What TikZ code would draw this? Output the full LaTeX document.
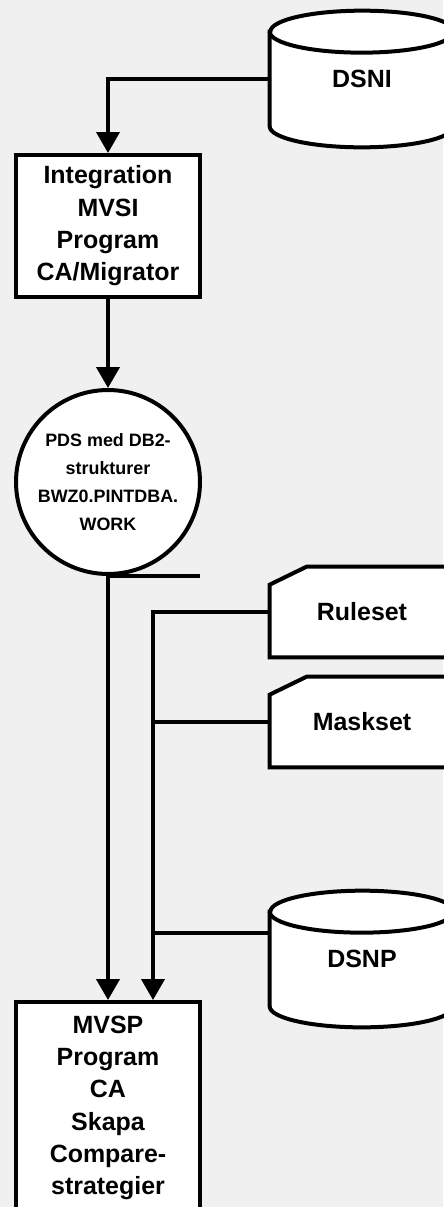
\documentclass[tikz,border=0pt]{standalone}
\usepackage{fontspec}
\setmainfont{Liberation Sans}
\usetikzlibrary{arrows.meta, backgrounds}
\definecolor{panelgray}{HTML}{F0F0F0}

% Trommel (Datenbank) hinter einem Textknoten
\newcommand{\drumshape}[1]{%
  \draw[chart, fill=white] ([yshift=-0.42cm]#1.north west) -- ([yshift=0.42cm]#1.south west)
    arc[start angle=180, end angle=360, x radius=1.84cm, y radius=0.42cm]
    -- ([yshift=-0.42cm]#1.north east)
    arc[start angle=0, end angle=180, x radius=1.84cm, y radius=0.42cm] -- cycle;
  \draw[chart] ([yshift=-0.42cm]#1.north west)
    arc[start angle=180, end angle=360, x radius=1.84cm, y radius=0.42cm];}

% Karte mit abgeschnittener Ecke
\newcommand{\cardshape}[1]{%
  \draw[chart, fill=white] (#1.south west) -- ([yshift=-0.36cm]#1.north west)
    -- ([xshift=0.74cm]#1.north west) -- (#1.north east) -- (#1.south east) -- cycle;}

\tikzset{
  chart/.style={line width=0.08cm, line join=miter},
  flow/.style={chart, -{Triangle[length=0.42cm, width=0.46cm]}},
  prog/.style={rectangle, chart, draw=black, fill=white, minimum width=3.68cm,
               inner sep=0pt, align=center, font=\fontsize{14.2}{18.4}\selectfont\bfseries},
  tape/.style={circle, chart, draw=black, fill=white, minimum size=3.68cm,
               inner sep=0pt, align=center, font=\fontsize{10.2}{15.9}\selectfont\bfseries},
  store/.style={rectangle, minimum width=3.68cm, inner sep=0pt, align=center,
                font=\fontsize{14.2}{18.4}\selectfont\bfseries}
}

\begin{document}
\begin{tikzpicture}[x=0.02cm, y=0.02cm]

    \useasboundingbox (0,0) rectangle (443,-1207);
    \begin{scope}[on background layer]
        \fill[panelgray] (0,0) rectangle (443,-1207);
    \end{scope}

    % Programme
    \node[prog, minimum height=2.84cm] (integ) at (108,-226) {Integration\\MVSI\\Program\\CA/Migrator};
    \node[prog, minimum height=4.24cm] (mvsp) at (108,-1108) {MVSP\\Program\\CA\\Skapa\\Compare-\\strategier};

    % Arbeitsdatei
    \node[tape] (pds) at (108,-482) {PDS med DB2-\\strukturer\\BWZ0.PINTDBA.\\WORK};
    \draw[chart] (pds.south) -- ++(92,0);

    % Datenbanken und Karten
    \node[store, minimum height=2.72cm] (dsni) at (362,-79) {DSNI};
    \node[store, minimum height=2.72cm] (dsnp) at (362,-959) {DSNP};
    \node[store, minimum height=1.8cm] (rules) at (362,-612) {Ruleset};
    \node[store, minimum height=1.8cm] (mask) at (362,-722) {Maskset};

    \begin{scope}[on background layer]
        \drumshape{dsni}
        \drumshape{dsnp}
        \cardshape{rules}
        \cardshape{mask}
    \end{scope}

    % Verbindungen
    \draw[flow] (dsni.west) -| (integ.north);
    \draw[flow] (integ.south) -- (pds.north);
    \draw[flow] (pds.south) -- (mvsp.north);
    \coordinate (feed) at ([xshift=0.9cm]mvsp.north);
    \draw[flow] (rules.west) -| (feed);
    \draw[chart] (mask.west) -- (mask.west -| feed);
    \coordinate (dsnp tap) at ([yshift=0.52cm]dsnp.west);
    \draw[chart] (dsnp tap) -- (dsnp tap -| feed);

\end{tikzpicture}
\end{document}
